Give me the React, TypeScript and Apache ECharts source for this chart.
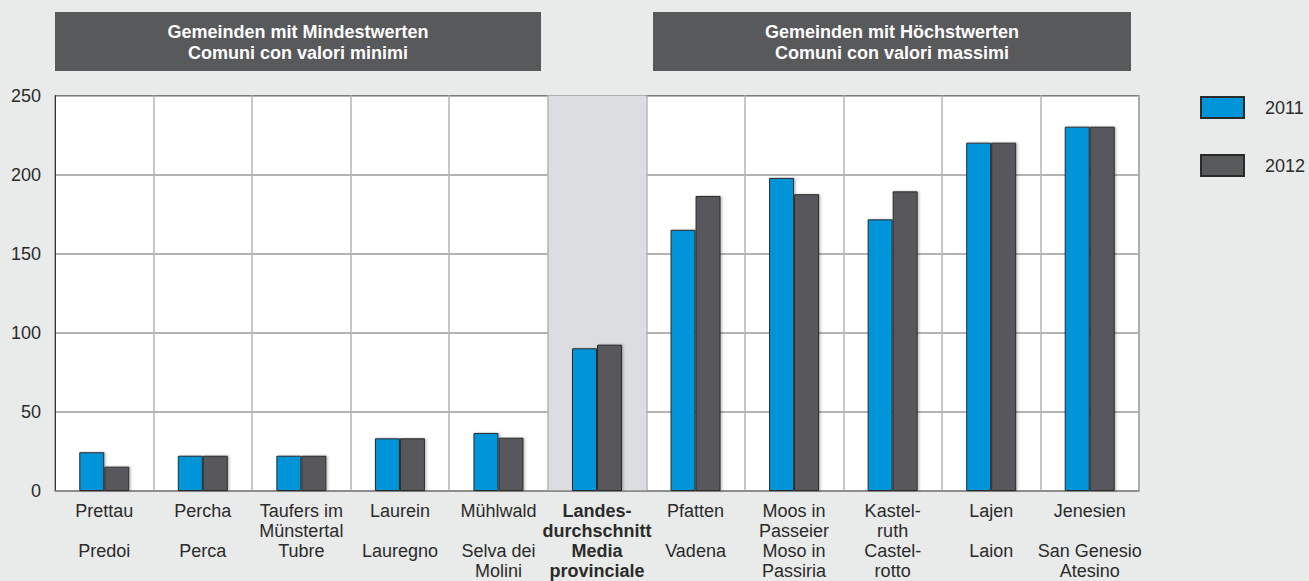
import React, { useEffect, useRef } from "react";
import * as echarts from "echarts";

const categoriesDe = [
  "Prettau",
  "Percha",
  "Taufers im\nMünstertal",
  "Laurein",
  "Mühlwald",
  "Landes-\ndurchschnitt",
  "Pfatten",
  "Moos in\nPasseier",
  "Kastel-\nruth",
  "Lajen",
  "Jenesien",
];
const categoriesIt = [
  "Predoi",
  "Perca",
  "Tubre",
  "Lauregno",
  "Selva dei\nMolini",
  "Media\nprovinciale",
  "Vadena",
  "Moso in\nPassiria",
  "Castel-\nrotto",
  "Laion",
  "San Genesio\nAtesino",
];
const highlightIndex = 5;
const values2011 = [24.5, 22.3, 22.3, 33.3, 36.7, 90.2, 165.1, 197.9, 171.7, 220.2, 230.3];
const values2012 = [15.4, 22.3, 22.3, 33.3, 33.7, 92.5, 186.5, 187.6, 189.4, 220.2, 230.3];
const seriesNames = ["2011", "2012"];
const yTicks = { min: 0, max: 250, interval: 50 };
const headerLeft = "Gemeinden mit Mindestwerten\nComuni con valori minimi";
const headerRight = "Gemeinden mit Höchstwerten\nComuni con valori massimi";

const FONT = "Liberation Sans, Arial, sans-serif";

export default function App() {
  const ref = useRef<HTMLDivElement>(null);
  useEffect(() => {
    if (!ref.current) return;
    const chart = echarts.init(ref.current, undefined, { renderer: "svg" });
    const barStyle = (color: string) => ({
      color,
      borderColor: "#2a2a2a",
      borderWidth: 1,
      shadowColor: "rgba(0,0,0,0.25)",
      shadowBlur: 2,
      shadowOffsetX: 1.5,
      shadowOffsetY: 0,
    });
    const areaColors = categoriesDe.map((_, i) =>
      i === highlightIndex ? "#dcdde0" : "rgba(255,255,255,0)"
    );
    const header = (x: number, w: number, text: string) => ({
      type: "group",
      children: [
        {
          type: "rect",
          shape: { x, y: 12, width: w, height: 59 },
          style: { fill: "#58595b" },
        },
        {
          type: "text",
          x: x + w / 2,
          y: 42.5,
          style: {
            text,
            fill: "#ffffff",
            font: `bold 18px ${FONT}`,
            align: "center",
            verticalAlign: "middle",
            lineHeight: 21,
          },
        },
      ],
    });
    chart.setOption({
      animation: false,
      backgroundColor: "#e9eaea",
      textStyle: { fontFamily: FONT },
      grid: {
        left: 55,
        top: 95.5,
        right: 170,
        bottom: 90,
        containLabel: false,
        outerBoundsMode: "none",
        show: true,
        backgroundColor: "#ffffff",
        borderColor: "#333333",
        borderWidth: 1,
      },
      legend: {
        data: seriesNames,
        orient: "vertical",
        left: 1195,
        top: 91,
        itemWidth: 43,
        itemHeight: 21,
        itemGap: 35,
        icon: "rect",
        textStyle: {
          fontSize: 18,
          color: "#2b2b2b",
          fontFamily: FONT,
          padding: [0, 0, 0, 16],
        },
      },
      graphic: [header(55, 486, headerLeft), header(653, 478, headerRight)],
      xAxis: {
        type: "category",
        data: categoriesDe,
        boundaryGap: true,
        axisTick: { show: false },
        axisLine: { show: true, lineStyle: { color: "#8a8a8a", width: 1.5 } },
        splitLine: { show: true, lineStyle: { color: "#b5b5b5", width: 1.5 } },
        splitArea: { show: true, areaStyle: { color: areaColors } },
        axisLabel: {
          interval: 0,
          margin: 10,
          formatter: (_v: string, i: number) => {
            const de = categoriesDe[i].split("\n");
            while (de.length < 2) de.push(" ");
            const it = categoriesIt[i].split("\n");
            const key = i === highlightIndex ? "b" : "r";
            return [...de, ...it].map((l) => `{${key}|${l}}`).join("\n");
          },
          rich: {
            r: { fontSize: 18, lineHeight: 20, color: "#2b2b2b", fontFamily: FONT },
            b: {
              fontSize: 18,
              lineHeight: 20,
              color: "#2b2b2b",
              fontWeight: "bold",
              fontFamily: FONT,
            },
          },
        },
      },
      yAxis: {
        type: "value",
        min: yTicks.min,
        max: yTicks.max,
        interval: yTicks.interval,
        axisLine: { show: true, lineStyle: { color: "#333333", width: 1 } },
        axisTick: { show: false },
        splitLine: { show: true, lineStyle: { color: "#9a9a9a", width: 1.5 } },
        axisLabel: { fontSize: 18, color: "#2b2b2b", margin: 14, fontFamily: FONT },
      },
      series: [
        {
          name: seriesNames[0],
          type: "bar",
          data: values2011,
          barWidth: 25,
          barGap: "0%",
          itemStyle: barStyle("#0094d8"),
        },
        {
          name: seriesNames[1],
          type: "bar",
          data: values2012,
          barWidth: 25,
          barGap: "0%",
          itemStyle: barStyle("#58595b"),
        },
      ],
    });
    return () => chart.dispose();
  }, []);
  return (
    <div
      ref={ref}
      style={{ position: "fixed", left: 0, top: 0, width: 1309, height: 581 }}
    />
  );
}
